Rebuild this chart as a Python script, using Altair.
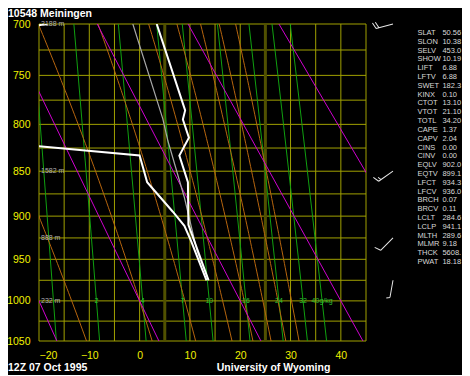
import altair as alt
import numpy as np
import pandas as pd

# ---------------- text ----------------
STATION = "10548  Meiningen"
DATE = "12Z 07 Oct 1995"
SOURCE = "University of Wyoming"

# ---------------- axes / grid ----------------
p_grid = [700, 725, 750, 775, 800, 825, 850, 875, 900, 925, 950, 975, 1000, 1025, 1050]
p_labels = [700, 750, 800, 850, 900, 950, 1000, 1050]
t_grid = [-20, -15, -10, -5, 0, 5, 10, 15, 20, 25, 30, 35, 40, 45]
t_labels = [-20, -10, 0, 10, 20, 30, 40]
dark_isotherms = [5, 25]

# ---------------- sounding ----------------
temp_p = [700, 785.5, 795, 814, 833, 862, 910, 975]
temp_t = [3.4, 9.05, 8.6, 9.8, 7.9, 9.6, 9.7, 13.7]
dwpt_p = [700, 708, 815, 823, 833, 862, 895, 911, 928, 975]
dwpt_t = [-18.3, -30.0, -40.0, -20.0, 0.0, 1.5, 6.6, 8.9, 10.2, 13.3]
parcel_p = [700, 794, 817, 879, 941, 975]
parcel_t = [-1.35, 4.6, 5.6, 8.9, 11.45, 13.7]

# ---------------- background lines ----------------
dry_theta = [253.15, 273.15, 293.15, 313.15, 333.15]          # K
moist_thetaw = [-13.5, 0.0, 9.0, 16.5, 20.8, 24.5, 27.5, 30.2]  # degC at 1000 hPa
mix_ratios = [1, 2, 4, 7, 10, 16, 24, 32, 40]                  # g/kg
mix_labels = ["", "2", "4", "7", "10", "16", "24", "32", "40g/kg"]

height_p = [700, 850, 925, 1000]
height_labels = ["3188 m", "1582 m", "888 m", "232 m"]

wind_p = [700, 850, 925, 975]
wind_dir = [255, 235, 225, 190]
wind_kt = [20, 15, 10, 5]

stat_names = ["SLAT", "SLON", "SELV", "SHOW", "LIFT", "LFTV", "SWET", "KINX", "CTOT",
              "VTOT", "TOTL", "CAPE", "CAPV", "CINS", "CINV", "EQLV", "EQTV", "LFCT",
              "LFCV", "BRCH", "BRCV", "LCLT", "LCLP", "MLTH", "MLMR", "THCK", "PWAT"]
stat_values = ["50.56", "10.38", "453.0", "10.19", "6.88", "6.88", "182.3", "0.10", "13.10",
               "21.10", "34.20", "1.37", "2.04", "0.00", "0.00", "902.0", "899.1", "934.3",
               "936.0", "0.07", "0.11", "284.6", "941.1", "289.6", "9.18", "5608.", "18.18"]

KAPPA = 0.286
W, H = 327, 317

# ---------------- helpers ----------------
def mix_T(w, p):
    e = w * p / (622.0 + w)
    a = np.log(e / 6.112)
    return 243.5 * a / (17.67 - a)


def moist_dTdp(p, T):
    tc = T - 273.15
    es = 6.112 * np.exp(17.67 * tc / (tc + 243.5))
    rs = 0.622 * es / (p - es)
    num = 287.04 * T + 2.501e6 * rs
    den = 1005.7 + (2.501e6 ** 2 * rs * 0.622) / (287.04 * T * T)
    return num / den / p


def moist_curve(tw):
    out = []
    for step, pend in ((-5.0, 700.0), (5.0, 1050.0)):
        p, T = 1000.0, tw + 273.15
        pts = [(p, T)]
        while (p - pend) * np.sign(step) < -1e-9:
            k1 = moist_dTdp(p, T)
            k2 = moist_dTdp(p + step / 2, T + step / 2 * k1)
            k3 = moist_dTdp(p + step / 2, T + step / 2 * k2)
            k4 = moist_dTdp(p + step, T + step * k3)
            T += step / 6 * (k1 + 2 * k2 + 2 * k3 + k4)
            p += step
            pts.append((p, T))
        out.append(pts)
    up, down = out
    allp = up[::-1] + down[1:]
    return [(pp, tt - 273.15) for pp, tt in allp]


def barb_path(kt):
    s = "M0,0L0,-1"
    full, half = kt // 10, (kt % 10) // 5
    y = -1.0
    for _ in range(full):
        s += f"M0,{y:.2f}L0.36,{y - 0.12:.2f}"
        y += 0.17
    if half:
        s += f"M0,{y:.2f}L0.2,{y - 0.07:.2f}"
    return s


# ---------------- data frames ----------------
rows = []
for i, th in enumerate(dry_theta):
    for j, p in enumerate([700.0, 1050.0]):
        rows.append({"id": f"d{i}", "i": j, "p": p, "t": th * (p / 1000.0) ** KAPPA - 273.15})
dry_df = pd.DataFrame(rows)

rows = []
for i, w in enumerate(mix_ratios):
    for j, p in enumerate(p_grid):
        rows.append({"id": f"w{i}", "i": j, "p": p, "t": float(mix_T(w, p))})
mix_df = pd.DataFrame(rows)
mixlab_df = pd.DataFrame({"p": [1000.0] * len(mix_ratios),
                          "t": [float(mix_T(w, 1000.0)) for w in mix_ratios],
                          "lab": mix_labels})
mixlab_df = mixlab_df[mixlab_df["lab"] != ""]

rows = []
for i, tw in enumerate(moist_thetaw):
    for j, (p, t) in enumerate(moist_curve(tw)):
        rows.append({"id": f"m{i}", "i": j, "p": p, "t": t})
moist_df = pd.DataFrame(rows)

def prof(ps, ts):
    return pd.DataFrame({"p": ps, "t": ts, "i": list(range(len(ps)))})

temp_df = prof(temp_p, temp_t)
dwpt_df = prof(dwpt_p, dwpt_t)
parcel_df = prof(parcel_p, parcel_t)

hgrid_df = pd.DataFrame({"p": p_grid})
vgrid_df = pd.DataFrame({"t": t_grid})
dark_df = pd.DataFrame({"t": dark_isotherms})
height_df = pd.DataFrame({"p": height_p, "lab": height_labels})
wind_df = pd.DataFrame({"p": wind_p, "dir": wind_dir,
                        "shape": [barb_path(k) for k in wind_kt]})
stat_df = pd.DataFrame({"row": list(range(len(stat_names))), "name": stat_names, "val": stat_values})

# ---------------- scales / axes ----------------
FONT = "Liberation Sans"
YEL = "#f0f000"
GRID = "#a0a000"
xs = alt.Scale(domain=[-20, 45], nice=False, zero=False)
ys = alt.Scale(type="pow", exponent=KAPPA, domain=[700, 1050], reverse=True, zero=False, nice=False)
xaxis = alt.Axis(values=t_labels, grid=False, ticks=False, domain=False, title=None, format="d",
                 labelColor=YEL, labelFont=FONT, labelFontSize=10.5, labelPadding=9)
yaxis = alt.Axis(values=p_labels, grid=False, ticks=False, domain=False, title=None, format="d",
                 labelColor=YEL, labelFont=FONT, labelFontSize=10.5, labelPadding=9)

def X(f="t:Q"):
    return alt.X(f, scale=xs, axis=xaxis)

def Y(f="p:Q"):
    return alt.Y(f, scale=ys, axis=yaxis)

def lines(df, color, width, clip=True):
    return alt.Chart(df).mark_line(color=color, strokeWidth=width, clip=clip).encode(
        x=X(), y=Y(), detail="id:N" if "id" in df.columns else alt.Undefined,
        order=alt.Order("i:Q"))

hgrid = alt.Chart(hgrid_df).mark_rule(color=GRID, strokeWidth=1).encode(y=Y())
vgrid = alt.Chart(vgrid_df).mark_rule(color=GRID, strokeWidth=1).encode(x=X())
dark = alt.Chart(dark_df).mark_rule(color="#505000", strokeWidth=3).encode(x=X())

mix = lines(mix_df, "#10a010", 1)
moist = lines(moist_df, "#b8660e", 1)
dry = lines(dry_df, "#d000d0", 1)
parcel = lines(parcel_df, "#a8a8a8", 1.2)
temp = lines(temp_df, "#ffffff", 2)
dwpt = lines(dwpt_df, "#ffffff", 2)

mixlab = alt.Chart(mixlab_df).mark_text(color="#30c030", font=FONT, fontSize=7,
                                         align="center", baseline="middle").encode(
    x=X(), y=Y(), text="lab:N")
heights = alt.Chart(height_df).mark_text(color="#b0b0b0", font=FONT, fontSize=7,
                                          align="left", baseline="middle").encode(
    x=alt.value(2), y=Y(), text="lab:N")

barbs = alt.Chart(wind_df).mark_point(filled=False, color="#e8e8e8", strokeWidth=1,
                                      size=1225, opacity=1).encode(
    x=alt.value(354), y=Y(), shape=alt.Shape("shape:N", scale=None),
    angle=alt.Angle("dir:Q", scale=None))

title_df = pd.DataFrame({"lab": [STATION]})
title = alt.Chart(title_df).mark_text(color="white", font=FONT, fontSize=10.5, fontWeight="bold",
                                      align="left", baseline="alphabetic").encode(
    x=alt.value(-31), y=alt.value(-7.5), text="lab:N")
date = alt.Chart(pd.DataFrame({"lab": [DATE]})).mark_text(
    color="white", font=FONT, fontSize=10.5, fontWeight="bold", align="left",
    baseline="alphabetic").encode(x=alt.value(-31), y=alt.value(347), text="lab:N")
source = alt.Chart(pd.DataFrame({"lab": [SOURCE]})).mark_text(
    color="white", font=FONT, fontSize=10.5, fontWeight="bold", align="center",
    baseline="alphabetic").encode(x=alt.value(234.5), y=alt.value(346.5), text="lab:N")

main = alt.layer(hgrid, vgrid, dark, mix, moist, dry, parcel, dwpt, temp,
                 mixlab, heights, barbs, title, date, source)

rowscale = alt.Scale(domain=[0, len(stat_names) - 1], range=[9, 238], nice=False, zero=False)
stat_lab = alt.Chart(stat_df).mark_text(color="#d8d8d8", font=FONT, fontSize=7.5,
                                         align="left", baseline="middle").encode(
    x=alt.value(378.4), y=alt.Y("row:Q", scale=rowscale, axis=None), text="name:N")
stat_val = alt.Chart(stat_df).mark_text(color="#d8d8d8", font=FONT, fontSize=7.5,
                                         align="left", baseline="middle").encode(
    x=alt.value(403.4), y=alt.Y("row:Q", scale=rowscale, axis=None), text="val:N")
table = alt.layer(stat_lab, stat_val)

chart = alt.layer(main, table).resolve_scale(y="independent").properties(
    width=W, height=H, autosize="none",
    padding={"left": 31, "top": 16, "right": 96, "bottom": 34},
).configure(background="#000000").configure_view(stroke=None)

chart.save("out.html", embed_options={"renderer": "svg", "actions": False})
